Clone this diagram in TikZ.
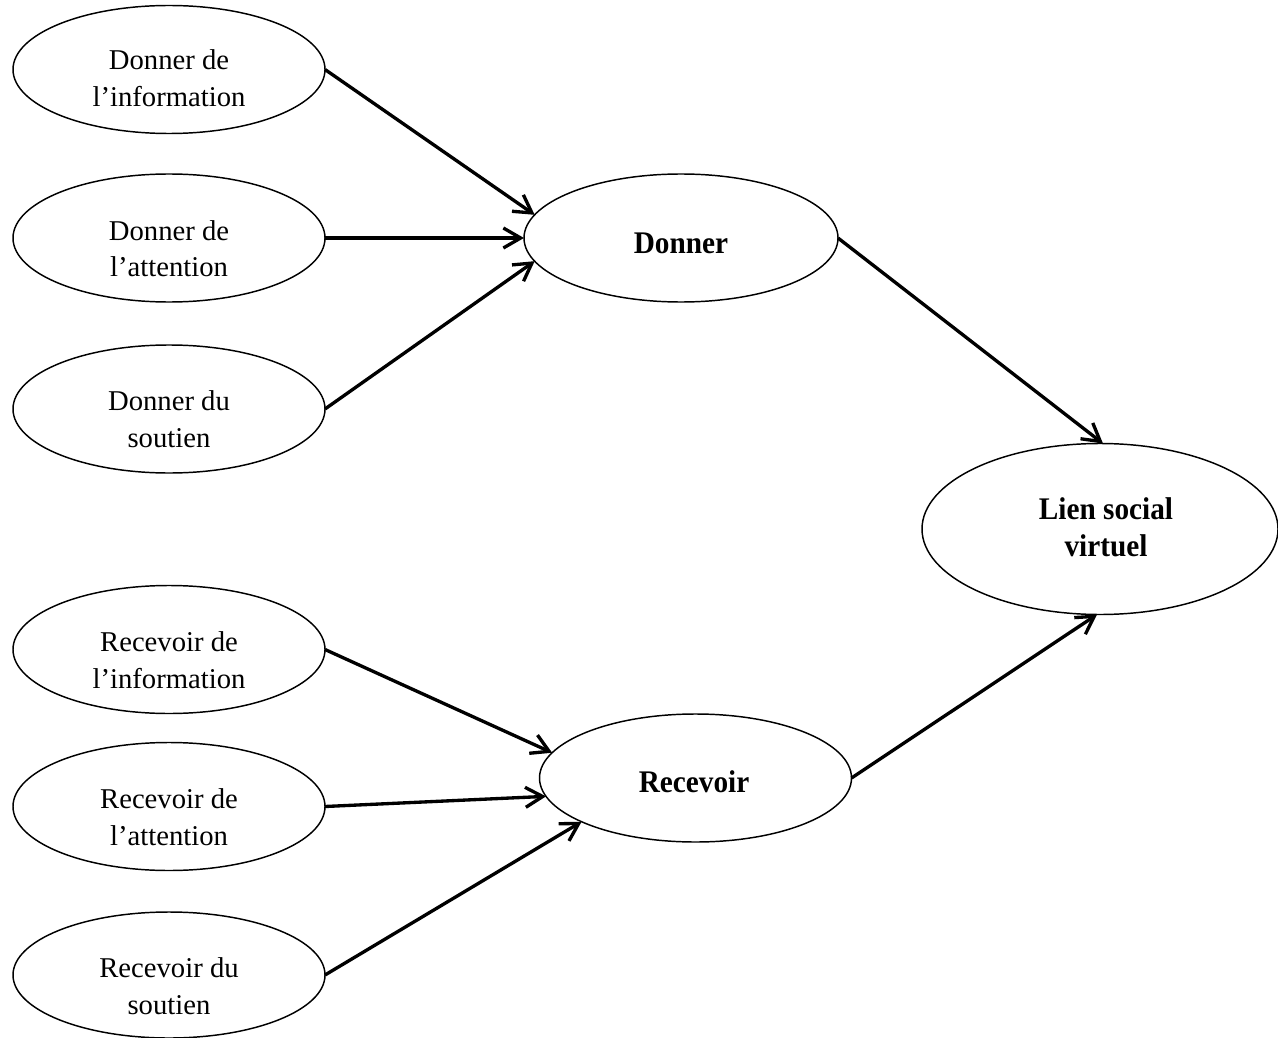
\documentclass[tikz,border=0pt]{standalone}
\usepackage{fontspec}
\setmainfont{Liberation Serif}
\newfontfamily\bfam{Liberation Serif}[FakeStretch=0.93]
\usetikzlibrary{shapes.geometric,arrows.meta}
\begin{document}
\begin{tikzpicture}[x=0.75pt,y=-0.75pt,
  ell/.style={draw, ellipse, line width=1.1pt, inner sep=0pt, outer sep=0pt,
              minimum width=234pt, minimum height=96pt},
  txt/.style={anchor=base, inner sep=0pt, font=\fontsize{21.5pt}{27.75pt}\selectfont},
  btxt/.style={anchor=base, inner sep=0pt, font=\fontsize{23.6pt}{28.1pt}\selectfont\bfam\bfseries},
  arr/.style={-{Straight Barb[length=13pt,width=15pt]}, line width=2.5pt}]
\useasboundingbox (0,0) rectangle (1278,1038);

% left ellipses
\node[ell] (e1) at (169,69.5) {};
\node[ell] (e2) at (169,238) {};
\node[ell] (e3) at (169,409) {};
\node[ell] (r1) at (169,649.5) {};
\node[ell] (r2) at (169,806.5) {};
\node[ell, minimum height=94.5pt] (r3) at (169,975) {};

% middle and right ellipses
\node[ell, minimum width=235.5pt] (don) at (681,238) {};
\node[ell] (rec) at (695.5,778) {};
\node[ell, minimum width=267pt, minimum height=128.25pt] (lien) at (1100,529) {};

% texts
\node[txt] (e1t) at (169,70) {\begin{tabular}[t]{@{}c@{}}Donner de\\l’information\end{tabular}};
\node[txt] (e2t) at (169,240) {\begin{tabular}[t]{@{}c@{}}Donner de\\l’attention\end{tabular}};
\node[txt] (e3t) at (169,410) {\begin{tabular}[t]{@{}c@{}}Donner du\\soutien\end{tabular}};
\node[txt] (r1t) at (169,651) {\begin{tabular}[t]{@{}c@{}}Recevoir de\\l’information\end{tabular}};
\node[txt] (r2t) at (169,808) {\begin{tabular}[t]{@{}c@{}}Recevoir de\\l’attention\end{tabular}};
\node[txt] (r3t) at (169,977) {\begin{tabular}[t]{@{}c@{}}Recevoir du\\soutien\end{tabular}};
\node[btxt] (dont) at (681,253) {Donner};
\node[btxt] (rect) at (694,792.7) {Recevoir};
\node[btxt] (lient) at (1106,519) {\begin{tabular}[t]{@{}c@{}}Lien social\\virtuel\end{tabular}};

% connectors
\draw[arr] (e1.east) -- (don.171);
\draw[arr] (e2.east) -- (don.west);
\draw[arr] (e3.east) -- (don.189);
\draw[arr] (don.east) -- (lien.88);
\draw[arr] (r1.east) -- (rec.170);
\draw[arr] (r2.east) -- (rec.187.7);
\draw[arr] (r3.east) -- (rec.201.4);
\draw[arr] (rec.east) -- (lien.268);
\end{tikzpicture}
\end{document}
